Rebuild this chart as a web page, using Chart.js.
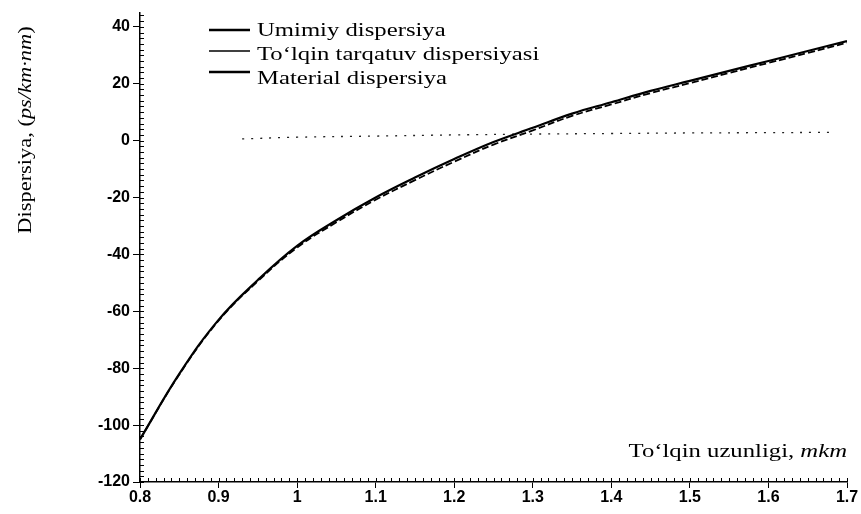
<!DOCTYPE html>
<html>
<head>
<meta charset="utf-8">
<script src="https://cdn.jsdelivr.net/npm/chart.js@4.4.1/dist/chart.umd.min.js"></script>
<style>
  html, body { margin: 0; padding: 0; background: #ffffff; }
  #wrap { width: 861px; height: 514px; }
</style>
</head>
<body>
<div id="wrap"><canvas id="c" width="861" height="514"></canvas></div>
<script>
// ---- data ----
const wavelengths = [0.80, 0.85, 0.90, 0.95, 1.00, 1.05, 1.10, 1.15, 1.20, 1.25, 1.30, 1.35, 1.40, 1.45, 1.50, 1.55, 1.60, 1.65, 1.70];
const totalDispersion = [-105, -82, -63, -49, -37, -28, -20, -13, -6.5, -0.5, 4.5, 9.5, 13.5, 17.5, 21, 24.5, 28, 31.5, 35];
const materialDispersion = [-105, -82.2, -63.3, -49.4, -37.6, -28.7, -20.8, -13.9, -7.4, -1.4, 3.6, 8.7, 12.7, 16.7, 20.2, 23.8, 27.3, 30.8, 34.4];
const waveguideWavelengths = [0.93, 1.00, 1.10, 1.20, 1.30, 1.40, 1.50, 1.60, 1.68];
const waveguideDispersion = [0.6, 1.2, 1.6, 2.0, 2.3, 2.5, 2.7, 2.8, 2.9];
const seriesLabels = ["Umimiy dispersiya", "To\u2018lqin tarqatuv dispersiyasi", "Material dispersiya"];
const xTickValues = [0.8, 0.9, 1, 1.1, 1.2, 1.3, 1.4, 1.5, 1.6, 1.7];
const yTickValues = [-120, -100, -80, -60, -40, -20, 0, 20, 40];

const pts = (xs, ys) => xs.map((x, i) => ({ x: x, y: ys[i] }));

const SERIF = '"Liberation Serif", "Times New Roman", serif';
const SANS = '"Liberation Sans", Arial, sans-serif';

// draw text with horizontal stretch (the scanned original is wide)
function wideText(ctx, pieces, x, y, stretch) {
  ctx.save();
  ctx.translate(x, y);
  ctx.scale(stretch, 1);
  let sx = 0;
  pieces.forEach(p => {
    ctx.font = p.font;
    ctx.fillText(p.text, sx, 0);
    sx += ctx.measureText(p.text).width;
  });
  ctx.restore();
  return sx * stretch;
}
function piecesWidth(ctx, pieces) {
  let w = 0;
  pieces.forEach(p => { ctx.font = p.font; w += ctx.measureText(p.text).width; });
  return w;
}

// minor ticks (inward) + axis titles + legend
const decor = {
  id: 'decor',
  afterDraw(chart) {
    const ctx = chart.ctx;
    const xs = chart.scales.x, ys = chart.scales.y;
    const a = chart.chartArea;
    ctx.save();
    ctx.strokeStyle = '#000';
    ctx.lineWidth = 1;
    for (let v = -120; v <= 45.001; v += 2) {
      const p = Math.round(ys.getPixelForValue(v)) + 0.5;
      ctx.beginPath(); ctx.moveTo(a.left, p); ctx.lineTo(a.left + 4, p); ctx.stroke();
    }
    for (let k = 80; k <= 170; k += 1) {
      const p = Math.round(xs.getPixelForValue(k / 100)) + 0.5;
      ctx.beginPath(); ctx.moveTo(p, a.bottom); ctx.lineTo(p, a.bottom - 4); ctx.stroke();
    }
    ctx.fillStyle = '#000';
    ctx.textBaseline = 'alphabetic';
    const F = '19px ' + SERIF, FI = 'italic 19px ' + SERIF;
    // x axis title inside plot, bottom right
    const xt = [{ text: 'To\u2018lqin uzunligi, ', font: F }, { text: 'mkm', font: FI }];
    const xStretch = 1.3;
    const xw = piecesWidth(ctx, xt) * xStretch;
    wideText(ctx, xt, 847 - xw, 457, xStretch);
    // y axis title, rotated
    const yt = [{ text: 'Dispersiya, (', font: F }, { text: 'ps/km\u00B7nm', font: FI }, { text: ')', font: F }];
    const yStretch = 1.18;
    const yw = piecesWidth(ctx, yt) * yStretch;
    ctx.save();
    ctx.translate(31, 130);
    ctx.rotate(-Math.PI / 2);
    wideText(ctx, yt, -yw / 2, 0, yStretch);
    ctx.restore();
    // legend
    const lx0 = 209, lx1 = 250, tx = 257;
    const rows = [
      { ly: 30, ty: 36, w: 2.5 },
      { ly: 51, ty: 60, w: 1.5 },
      { ly: 72, ty: 84, w: 2.5 }
    ];
    chart.data.datasets.forEach((ds, i) => {
      const r = rows[i];
      ctx.strokeStyle = '#000';
      ctx.lineWidth = r.w;
      ctx.beginPath(); ctx.moveTo(lx0, r.ly); ctx.lineTo(lx1, r.ly); ctx.stroke();
      ctx.fillStyle = '#000';
      wideText(ctx, [{ text: ds.label, font: F }], tx, r.ty, 1.3);
    });
    ctx.restore();
  }
};

new Chart(document.getElementById('c'), {
  type: 'line',
  data: {
    datasets: [
      { label: seriesLabels[0], data: pts(wavelengths, totalDispersion), borderColor: '#000', borderWidth: 2.2, pointRadius: 0, tension: 0.4, fill: false },
      { label: seriesLabels[1], data: pts(waveguideWavelengths, waveguideDispersion), borderColor: '#222', borderWidth: 1.3, borderDash: [2, 7], pointRadius: 0, tension: 0.4, fill: false },
      { label: seriesLabels[2], data: pts(wavelengths, materialDispersion), borderColor: '#000', borderWidth: 1.8, borderDash: [7, 3], pointRadius: 0, tension: 0.4, fill: false }
    ]
  },
  options: {
    responsive: false,
    animation: false,
    devicePixelRatio: 1,
    layout: { padding: { left: 0, right: 14, top: 10, bottom: 0 } },
    plugins: { legend: { display: false }, tooltip: { enabled: false } },
    scales: {
      x: {
        type: 'linear', min: 0.8, max: 1.7,
        afterBuildTicks: s => { s.ticks = xTickValues.map(v => ({ value: v })); },
        afterFit: s => { s.height = 32; },
        ticks: { color: '#000', font: { family: SANS, size: 16, weight: 'bold' }, padding: 0, maxRotation: 0,
                 callback: v => String(Math.round(v * 10) / 10) },
        grid: { display: true, drawOnChartArea: false, drawTicks: true, tickLength: 6, color: '#000', lineWidth: 1 },
        border: { display: true, color: '#000', width: 1.5 }
      },
      y: {
        type: 'linear', min: -120, max: 45,
        afterBuildTicks: s => { s.ticks = yTickValues.map(v => ({ value: v })); },
        afterFit: s => { s.width = 140; },
        ticks: { color: '#000', font: { family: SANS, size: 16, weight: 'bold' }, padding: 3,
                 callback: v => String(v) },
        grid: { display: true, drawOnChartArea: false, drawTicks: true, tickLength: 7, color: '#000', lineWidth: 1 },
        border: { display: true, color: '#000', width: 1.5 }
      }
    }
  },
  plugins: [decor]
});
</script>
</body>
</html>
